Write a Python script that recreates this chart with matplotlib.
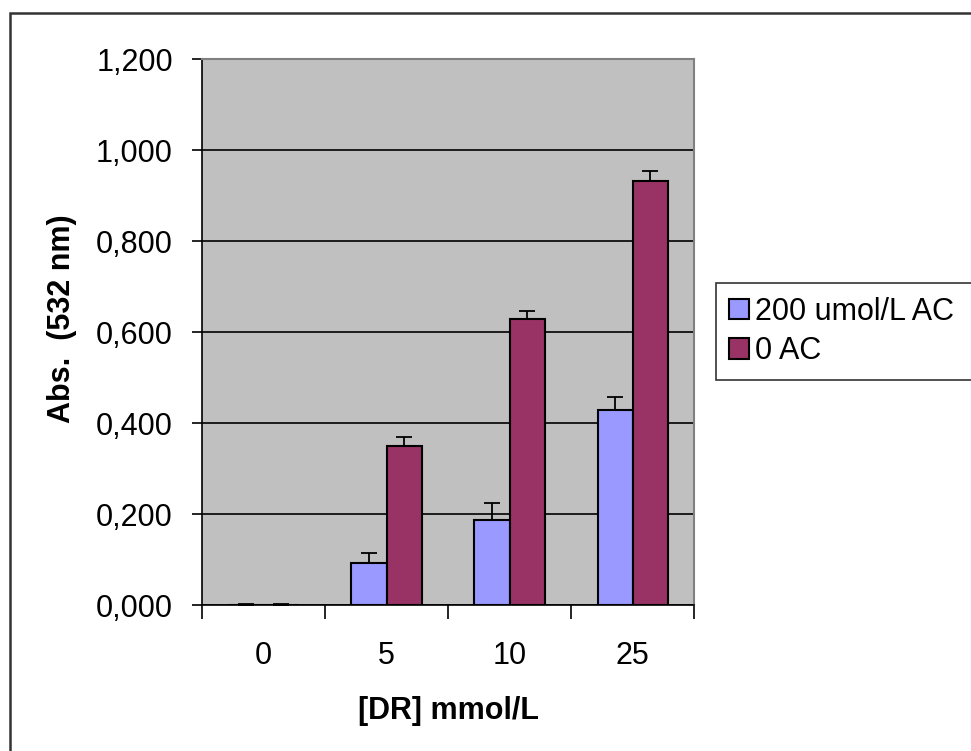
import matplotlib.pyplot as plt
import matplotlib.patches as mpatches
from matplotlib.ticker import FuncFormatter
import numpy as np

plt.rcParams['font.family'] = ['Liberation Sans', 'DejaVu Sans']

# data
categories = ["0", "5", "10", "25"]
series_names = ["200 umol/L AC", "0 AC"]
ac200 = [0.001, 0.092, 0.188, 0.430]
ac200_err = [0.001, 0.022, 0.036, 0.028]
ac0 = [0.001, 0.351, 0.629, 0.932]
ac0_err = [0.001, 0.018, 0.017, 0.022]
colors = ["#9999FF", "#993366"]

fig = plt.figure(figsize=(9.71, 7.51), dpi=100)
ax = fig.add_axes([0.208, 0.194, 0.507, 0.727])
ax.set_facecolor("#C0C0C0")

x = np.arange(len(categories))
w = 1 / 3.5
err_kw = dict(ecolor="black", elinewidth=1.3, capsize=5.8, capthick=1.3)
ax.bar(x - w / 2, ac200, w, color=colors[0], edgecolor="black", linewidth=1.5,
       label=series_names[0], zorder=3)
ax.bar(x + w / 2, ac0, w, color=colors[1], edgecolor="black", linewidth=1.5,
       label=series_names[1], zorder=3)
ax.errorbar(x - w / 2, ac200, yerr=[np.zeros(4), ac200_err], fmt="none", zorder=4, **err_kw)
ax.errorbar(x + w / 2, ac0, yerr=[np.zeros(4), ac0_err], fmt="none", zorder=4, **err_kw)

ax.set_xlim(-0.5, len(categories) - 0.5)
ax.set_ylim(0, 1.2)
ax.set_yticks(np.arange(0, 1.21, 0.2))
# decimal comma, as in the original
ax.yaxis.set_major_formatter(FuncFormatter(lambda v, p: f"{v:.3f}".replace(".", ",")))
ax.grid(axis="y", color="black", linewidth=1.2, zorder=1)
ax.set_axisbelow(True)

ax.set_xticks(x)
ax.set_xticklabels(categories)
ax.set_xticks(np.arange(-0.5, len(categories), 1), minor=True)
ax.tick_params(axis="x", which="major", length=0, pad=26, labelsize=22)
ax.tick_params(axis="x", which="minor", length=10, width=1.2, direction="out")
ax.tick_params(axis="y", length=7, width=1.2, pad=14, labelsize=22)

for s in ["top", "right"]:
    ax.spines[s].set_color("#808080")
    ax.spines[s].set_linewidth(1.5)
for s in ["left", "bottom"]:
    ax.spines[s].set_color("black")
    ax.spines[s].set_linewidth(1.2)

fig.text(0.064, 0.575, "Abs.  (532 nm)", rotation=90, fontsize=22,
         fontweight="bold", ha="center", va="center")
ax.set_xlabel("[DR] mmol/L", fontsize=22, fontweight="bold", labelpad=18)

leg = fig.legend(loc="upper left", bbox_to_anchor=(0.737, 0.3, 0.31, 0.323),
                 mode="expand", fontsize=22,
                 frameon=True, fancybox=False, edgecolor="black",
                 handlelength=0.65, handleheight=0.65, handletextpad=0.2,
                 borderpad=0.45, labelspacing=0.3, borderaxespad=0)
leg.get_frame().set_linewidth(1.2)

# outer chart border
fig.patches.append(mpatches.Rectangle((0.0098, -0.1), 1.1, 0.1 + 0.9827,
                                      transform=fig.transFigure, fill=False,
                                      edgecolor="#333333", linewidth=1.8))

fig.savefig("out.png", dpi=100)
